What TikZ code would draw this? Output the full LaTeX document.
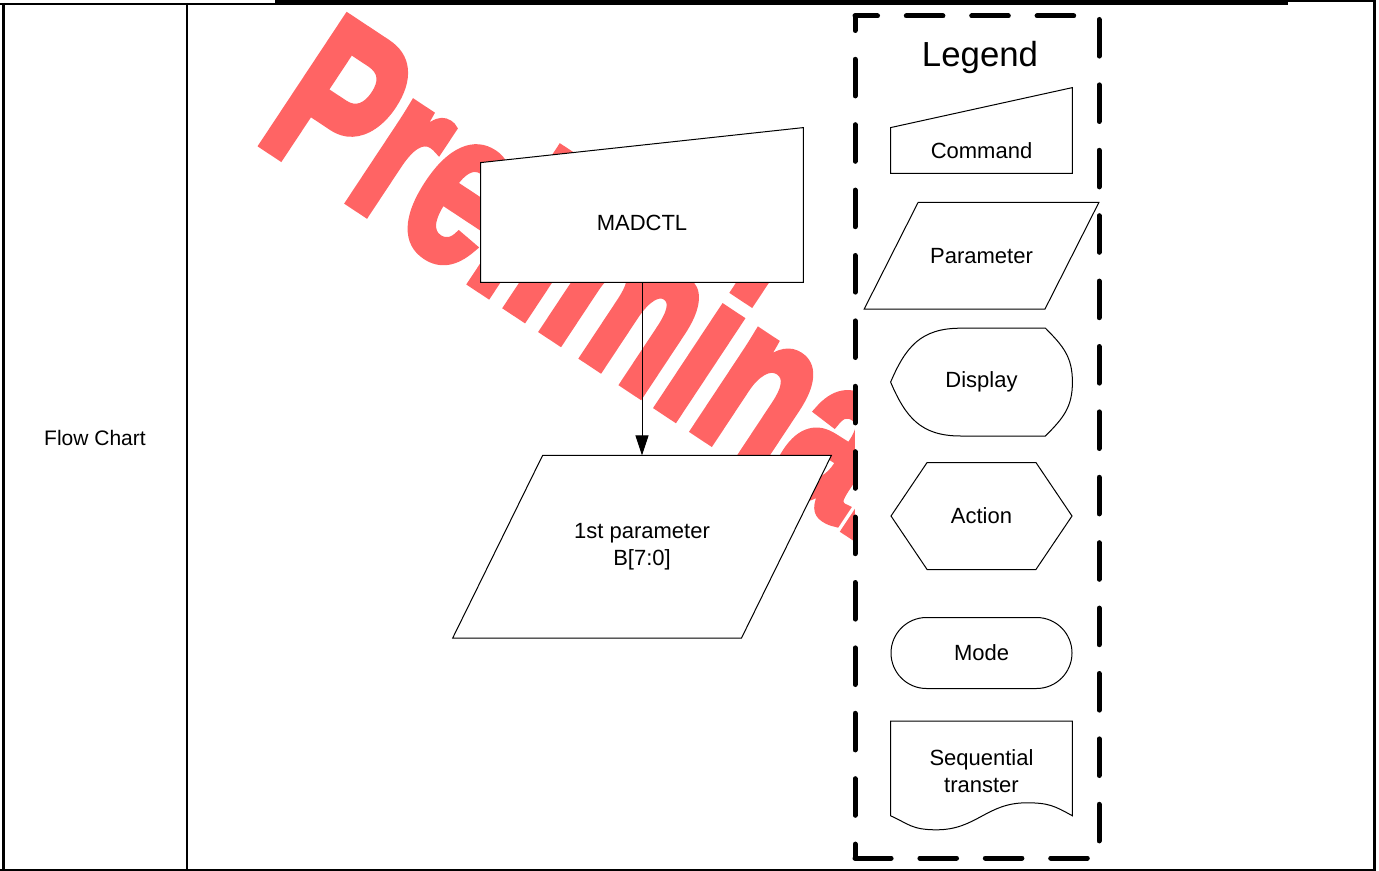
\documentclass[tikz,border=0pt]{standalone}
\usepackage{fontspec}
\setmainfont{Liberation Sans}
\newfontfamily\markfont{Liberation Sans}[BoldFeatures={FakeBold=4}]
\usetikzlibrary{arrows.meta,positioning,shapes.misc,shapes.symbols}
\definecolor{prelim}{RGB}{255,100,100}
\pgfdeclarelayer{mark}
\pgfdeclarelayer{shapes}
\pgfsetlayers{mark,shapes,main}

\begin{document}
\begin{tikzpicture}[
  x=0.5pt, y=-0.5pt,
  txt/.style={font=\fontsize{11}{13.5}\selectfont, align=center, inner sep=0pt},
  cmdbox/.style={txt, minimum width=161pt, minimum height=59.5pt},
  parbox/.style={txt, minimum width=189pt, minimum height=91pt},
  legcmd/.style={txt, minimum width=90.5pt, minimum height=22.5pt},
  legpar/.style={txt, minimum width=117pt, minimum height=53pt},
  legdisp/.style={txt, minimum width=90.5pt, minimum height=53.5pt},
  legact/.style={txt, signal, signal to=east and west, signal pointer angle=112,
                 draw, line width=0.5pt, minimum width=90.5pt, minimum height=53.5pt},
  legmode/.style={txt, rounded rectangle, draw, line width=0.5pt,
                  minimum width=90.5pt, minimum height=35.5pt},
  legseq/.style={txt, minimum width=90.5pt, minimum height=50pt},
  shapeline/.style={draw, fill=white, line width=0.5pt},
  legframe/.style={line width=2.5pt, dash pattern=on 18.3pt off 14.4pt, line cap=round},
  arr/.style={-{Triangle[length=10pt, width=6.5pt]}, line width=0.5pt},
  tabline/.style={line width=1pt}
]
  \useasboundingbox (0,0) rectangle (1379,871);

  % table
  \draw[tabline, line width=1.75pt] (3.5,3) -- (3.5,870);
  \draw[tabline] (187,3) -- (187,870);
  \draw[tabline, line width=1.5pt] (1374.5,0) -- (1374.5,870);
  \draw[tabline] (0,870) -- (1376,870);
  \draw[tabline] (0,3.7) -- (275,3.7);
  \fill (275,0) rectangle (1288,5);
  \draw[tabline] (1288,1.3) -- (1376,1.3);

  \node[txt, font=\fontsize{10.5}{12}\selectfont] (label) at (95,438) {Flow Chart};

  % watermark
  \begin{pgfonlayer}{mark}
    \node[font=\markfont\bfseries\fontsize{77.5}{80}\selectfont, text=prelim, inner sep=0pt,
          anchor=base west, rotate=-33.5, yscale=1.43] (prelim) at (253.6,138.4) {Preliminary};
  \end{pgfonlayer}

  % flow
  \node[cmdbox] (madctl) at (642,222.5) {MADCTL};
  \node[parbox, below=86.5pt of madctl] (param) {1st parameter\\B[7:0]};
  \draw[arr] (madctl.south) -- (param.north);

  % legend
  \node[txt, font=\fontsize{17.4}{20}\selectfont] (legend) at (980,58) {Legend};
  \node[legcmd] (cmd) at (981.5,150.5) {Command};
  \node[legpar, below=14.5pt of cmd] (par) {Parameter};
  \node[legdisp, below=9.5pt of par] (disp) {Display};
  \node[legact, below=13pt of disp] (act) {Action};
  \node[legmode, below=23.5pt of act] (mode) {Mode};
  \node[legseq, below=16pt of mode] (seq) {Sequential\\transter};

  \begin{pgfonlayer}{shapes}
    \fill[white] (855,16) rectangle (1099,858);
    \draw[legframe, dash phase=7.05pt] (855,16) -- (1099,16) -- (1099,858) -- (855,858);
    \draw[legframe, dash phase=11.05pt] (855,16) -- (855,858);
    \draw[shapeline] (madctl.south west) -- (madctl.south east)
      -- ([yshift=17.5pt]madctl.north east) -- (madctl.north west) -- cycle;
    \draw[shapeline] ([xshift=45pt]param.north west) -- (param.north east)
      -- ([xshift=-45pt]param.south east) -- (param.south west) -- cycle;
    \draw[shapeline] (cmd.south west) -- (cmd.south east)
      -- ([yshift=20pt]cmd.north east) -- (cmd.north west) -- cycle;
    \draw[shapeline] ([xshift=27pt]par.north west) -- (par.north east)
      -- ([xshift=-27pt]par.south east) -- (par.south west) -- cycle;
    \draw[shapeline] (disp.west) .. controls +(15,-35) and +(-40,0) .. ([xshift=35pt]disp.north west)
      -- ([xshift=-13.5pt]disp.north east) .. controls +(18,18) and +(0,-25) .. (disp.east)
      .. controls +(0,25) and +(18,-18) .. ([xshift=-13.5pt]disp.south east)
      -- ([xshift=35pt]disp.south west) .. controls +(-40,0) and +(15,35) .. (disp.west);
    \draw[shapeline] ([yshift=3pt]seq.south west) -- (seq.north west) -- (seq.north east)
      -- ([yshift=3pt]seq.south east) .. controls +(-18,-10) and +(22,0) .. ([xshift=22.5pt,yshift=9.5pt]seq.south)
      .. controls +(-40,0) and +(40,0) .. ([xshift=-22.5pt,yshift=-4pt]seq.south)
      .. controls +(-25,0) and +(18,8) .. ([yshift=3pt]seq.south west);
  \end{pgfonlayer}
\end{tikzpicture}
\end{document}
